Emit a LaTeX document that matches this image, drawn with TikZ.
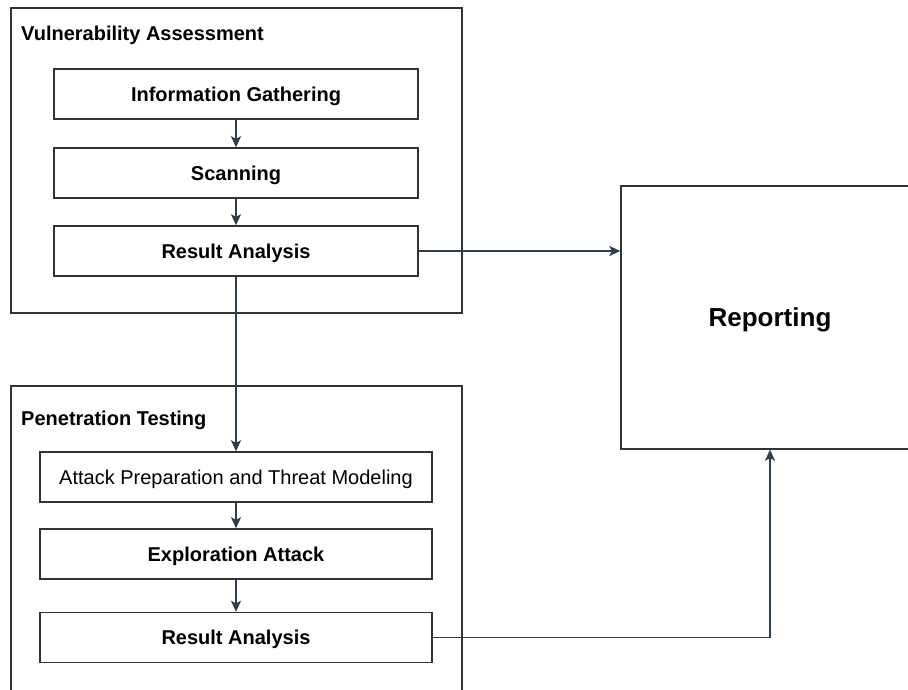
\documentclass[tikz,border=0pt]{standalone}
\usepackage{fontspec}
\setmainfont{Liberation Sans}
\usetikzlibrary{arrows.meta,calc}
\definecolor{edgeline}{HTML}{333333}
\definecolor{flow}{HTML}{2C3E50}
\tikzset{
  phase/.style={draw=edgeline, line width=1.4pt},
  stepbox/.style={draw=edgeline, line width=1.4pt, rectangle, minimum height=50pt,
    inner sep=0pt, text height=14.4pt, text depth=0pt,
    font=\fontsize{20}{24}\selectfont\bfseries},
  title/.style={anchor=base west, inner sep=0pt, font=\fontsize{20}{24}\selectfont\bfseries},
  flowarrow/.style={draw=flow, line width=1.5pt, -{Stealth[length=11pt,width=10pt,inset=2.5pt]}},
}
\begin{document}
\begin{tikzpicture}[x=1pt,y=-1pt]
  \clip (0,0) rectangle (908,690);
  \fill[white] (0,0) rectangle (908,690);

  % phase containers
  \draw[phase] (11,8) rectangle (462,313);
  \draw[phase] (11,386) rectangle (462,720);
  \node[title] (vatitle) at (21,40.5) {Vulnerability Assessment};
  \node[title] (pttitle) at (21,425) {Penetration Testing};

  % vulnerability assessment steps
  \node[stepbox, minimum width=364pt] (gather) at (236,94) {Information Gathering};
  \node[stepbox, minimum width=364pt] (scan) at (236,173) {Scanning};
  \node[stepbox, minimum width=364pt] (resA) at (236,251) {Result Analysis};

  % penetration testing steps
  \node[stepbox, minimum width=392pt, font=\fontsize{20}{24}\selectfont] (prep) at (236,477) {Attack Preparation and Threat Modeling};
  \node[stepbox, minimum width=392pt] (exploit) at (236,554) {Exploration Attack};
  \node[stepbox, minimum width=392pt] (resB) at (236,637.5) {Result Analysis};

  % reporting
  \node[draw=edgeline, line width=1.4pt, rectangle, minimum width=298pt, minimum height=263pt,
        inner sep=0pt, text height=18.6pt, text depth=0pt,
        font=\fontsize{26}{30}\selectfont\bfseries] (report) at (770,317.5) {Reporting};

  % flow
  \draw[flowarrow] (gather) -- (scan);
  \draw[flowarrow] (scan) -- (resA);
  \draw[flowarrow] (resA.east) -- (resA.east -| report.west);
  \draw[flowarrow] (resA) -- (prep);
  \draw[flowarrow] (prep) -- (exploit);
  \draw[flowarrow] (exploit) -- (resB);
  \draw[flowarrow] (resB.east) -| (report.south);
\end{tikzpicture}
\end{document}
